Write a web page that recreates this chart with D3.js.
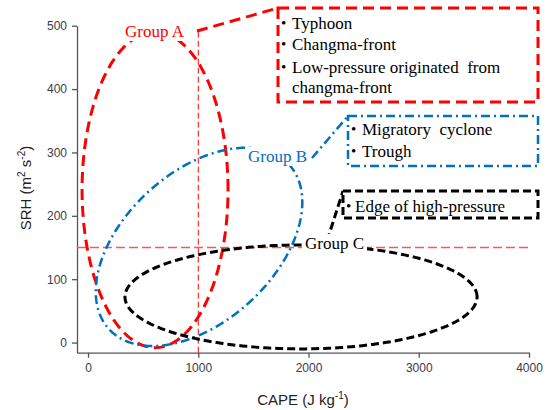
<!DOCTYPE html>
<html><head><meta charset="utf-8">
<script src="https://cdn.jsdelivr.net/npm/d3@7"></script>
<style>body{margin:0;background:#fff}svg{display:block}</style>
</head><body>
<svg id="c" width="552" height="410"></svg>
<script>
// ---- data ----
const xTicks = [0, 1000, 2000, 3000, 4000];
const yTicks = [0, 100, 200, 300, 400, 500];
const groups = ["Group A", "Group B", "Group C"];
const centerX = [608, 1007, 1932];
const centerY = [241, 151, 72];
const axisU = [[662, 0], [816, 130], [1597, 0]];
const axisV = [[0, 249], [460, -87], [0, 82]];
const refX = 1000;
const refY = 150;
const boxA = ["Typhoon", "Changma-front", "Low-pressure originated  from", "changma-front"];
const boxB = ["Migratory  cyclone", "Trough"];
const boxC = ["Edge of high-pressure"];

// ---- setup ----
const svg = d3.select("#c");
const x = d3.scaleLinear().domain([-100, 4000]).range([77, 529]);
const y = d3.scaleLinear().domain([-16, 500]).range([352.7, 25.7]);
const colors = ["#ff0000", "#0070c0", "#000000"];
const dashes = ["11,6", "9,4,2,4", "8,4"];
const widths = [3, 2.5, 3];
const serif = "'Liberation Serif','Times New Roman',serif";
const sans = "'Liberation Sans',Arial,sans-serif";

// axes
const gx = svg.append("g").attr("transform", `translate(0,${y(-16)})`)
  .call(d3.axisBottom(x).tickValues(xTicks).tickFormat(d3.format("d")).tickSizeInner(5).tickSizeOuter(0).tickPadding(6));
const gy = svg.append("g").attr("transform", `translate(${x(-100)},0)`)
  .call(d3.axisLeft(y).tickValues(yTicks).tickFormat(d3.format("d")).tickSizeInner(5).tickSizeOuter(0).tickPadding(5));
[gx, gy].forEach(g => {
  g.selectAll("path,line").attr("stroke", "#555").attr("stroke-width", 1.3);
  g.selectAll("text").attr("fill", "#3a3a4a").style("font-family", sans).style("font-size", "12px");
});

// axis titles
const xt = svg.append("text").attr("x", 303).attr("y", 405).attr("text-anchor", "middle")
  .style("font-family", sans).style("font-size", "15px").attr("fill", "#222");
xt.append("tspan").text("CAPE (J kg");
xt.append("tspan").attr("dy", -6).style("font-size", "10px").text("-1");
xt.append("tspan").attr("dy", 6).text(")");

const yt = svg.append("text").attr("transform", "translate(31,188) rotate(-90)").attr("text-anchor", "middle")
  .style("font-family", sans).style("font-size", "15px").attr("fill", "#222");
yt.append("tspan").text("SRH (m");
yt.append("tspan").attr("dy", -6).style("font-size", "10px").text("2");
yt.append("tspan").attr("dy", 6).text(" s");
yt.append("tspan").attr("dy", -6).style("font-size", "10px").text("-2");
yt.append("tspan").attr("dy", 6).text(")");

// reference lines
svg.append("line").attr("x1", x(refX)).attr("x2", x(refX)).attr("y1", y(-16)).attr("y2", y(492))
  .attr("stroke", "#ff0000").attr("stroke-width", 1).attr("stroke-dasharray", "6,3");
svg.append("line").attr("x1", x(-100)).attr("x2", x(4000)).attr("y1", y(refY)).attr("y2", y(refY))
  .attr("stroke", "#ff5555").attr("stroke-width", 1.5).attr("stroke-dasharray", "9,4");

// ellipses
const N = 240;
const line = d3.line().x(d => x(d[0])).y(d => y(d[1])).curve(d3.curveLinearClosed);
groups.forEach((g, i) => {
  const pts = d3.range(N).map(k => {
    const t = k / N * 2 * Math.PI;
    return [centerX[i] + axisU[i][0] * Math.cos(t) + axisV[i][0] * Math.sin(t),
            centerY[i] + axisU[i][1] * Math.cos(t) + axisV[i][1] * Math.sin(t)];
  });
  svg.append("path").attr("d", line(pts)).attr("fill", "none")
    .attr("stroke", colors[i]).attr("stroke-width", widths[i]).attr("stroke-dasharray", dashes[i]);
});

// callouts (pixel layout)
const callouts = [
  {line: [197, 31, 278, 8], box: [278, 8, 538, 102], items: boxA, bx: 281, tx: 292, base: [29, 50, 73, 93], bullets: [1,1,1,0]},
  {line: [312, 158, 348, 116], box: [348, 116, 538, 166], items: boxB, bx: 351, tx: 362, base: [135, 157], bullets: [1,1]},
  {line: [327, 241, 343, 191], box: [343, 191, 538, 218], items: boxC, bx: 346, tx: 355, base: [212], bullets: [1]}
];
callouts.forEach((c, i) => {
  svg.append("line").attr("x1", c.line[0]).attr("y1", c.line[1]).attr("x2", c.line[2]).attr("y2", c.line[3])
    .attr("stroke", colors[i]).attr("stroke-width", widths[i]).attr("stroke-dasharray", dashes[i]);
  svg.append("rect").attr("x", c.box[0]).attr("y", c.box[1]).attr("width", c.box[2] - c.box[0]).attr("height", c.box[3] - c.box[1])
    .attr("fill", "#fff").attr("stroke", colors[i]).attr("stroke-width", widths[i]).attr("stroke-dasharray", dashes[i]);
  c.items.forEach((t, j) => {
    if (c.bullets[j]) svg.append("text").attr("x", c.bx).attr("y", c.base[j] - 1).text("•")
      .style("font-family", serif).style("font-size", "15px").attr("fill", "#000");
    svg.append("text").attr("x", c.tx).attr("y", c.base[j]).text(t).attr("xml:space", "preserve")
      .style("white-space", "pre").style("font-family", serif).style("font-size", "17px").attr("fill", "#000");
  });
});

// group labels with white backing
const labelPos = [[125, 37], [248, 162], [305, 249]];
groups.forEach((g, i) => {
  const t = svg.append("text").attr("x", labelPos[i][0]).attr("y", labelPos[i][1]).text(g)
    .style("font-family", serif).style("font-size", "17px").attr("fill", colors[i]);
  const b = t.node().getBBox();
  svg.insert("rect", () => t.node()).attr("x", b.x - 3).attr("y", b.y).attr("width", b.width + 6).attr("height", b.height)
    .attr("fill", "#fff");
});
</script>
</body></html>
